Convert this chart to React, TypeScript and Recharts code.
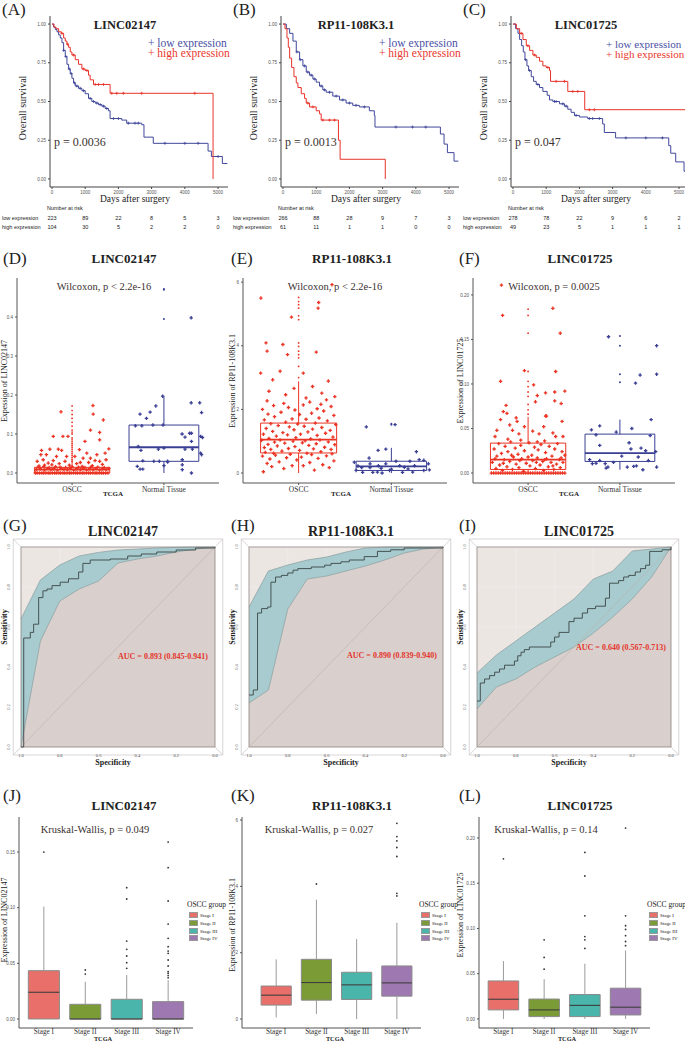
import React from "react";
import {
  Area,
  CartesianGrid,
  ComposedChart,
  Line,
  ReferenceArea,
  ReferenceLine,
  Scatter,
  XAxis,
  YAxis,
} from "recharts";

const SERIF = '"Liberation Serif", "DejaVu Serif", serif';
const SANS = '"Liberation Sans", Arial, sans-serif';
const KM_BLUE = "#40479b";
const KM_RED = "#e8332a";
const PT_RED = "#ea3323";
const PT_BLUE = "#3a3f94";

// ---------- Kaplan-Meier (days, survival) ----------
const KM_TICKS = [0, 1000, 2000, 3000, 4000, 5000];
const RISK_DAYS = [0, 1000, 2000, 3000, 4000, 5000];

const kmA_low = [[0,1],[50,0.98],[100,0.965],[150,0.95],[200,0.93],[250,0.91],[300,0.88],[350,0.83],[400,0.79],[450,0.74],[500,0.71],[550,0.68],[600,0.65],[650,0.62],[700,0.6],[800,0.585],[900,0.57],[1000,0.55],[1100,0.52],[1200,0.5],[1300,0.49],[1400,0.48],[1500,0.47],[1600,0.455],[1700,0.44],[1750,0.39],[2100,0.38],[2250,0.36],[2700,0.35],[2770,0.27],[3050,0.23],[4700,0.18],[4800,0.145],[5130,0.1],[5280,0.1]];
const kmA_lowCens = [[350,0.83],[420,0.79],[520,0.71],[580,0.68],[680,0.62],[750,0.6],[850,0.585],[950,0.57],[1150,0.52],[1250,0.5],[1350,0.49],[1450,0.48],[1550,0.47],[1650,0.455],[1850,0.39],[2000,0.39],[2300,0.36],[2500,0.36],[2600,0.36],[3400,0.23],[4000,0.23],[4400,0.23],[5000,0.145]];
const kmA_high = [[0,1],[60,0.98],[120,0.97],[200,0.95],[280,0.94],[350,0.91],[400,0.89],[450,0.87],[500,0.85],[550,0.82],[600,0.8],[700,0.77],[800,0.74],[900,0.71],[1000,0.7],[1100,0.67],[1150,0.64],[1250,0.61],[1750,0.553],[4850,0]];
const kmA_highCens = [[300,0.94],[470,0.87],[650,0.8],[950,0.71],[1050,0.7],[1300,0.61],[1400,0.61],[1550,0.61],[1800,0.553],[1950,0.553],[2150,0.553],[2700,0.553],[4300,0.553]];
const riskA_low = [223, 89, 22, 8, 5, 3];
const riskA_high = [104, 30, 5, 2, 2, 0];

const kmB_low = [[0,1],[100,0.97],[200,0.94],[300,0.89],[400,0.82],[500,0.77],[600,0.73],[700,0.69],[800,0.67],[900,0.645],[1000,0.625],[1100,0.6],[1200,0.575],[1300,0.56],[1500,0.535],[1700,0.51],[1900,0.49],[2100,0.475],[2300,0.465],[2600,0.44],[2750,0.41],[2770,0.335],[4740,0.29],[4850,0.225],[4950,0.17],[5150,0.115],[5280,0.115]];
const kmB_lowCens = [[420,0.82],[520,0.77],[650,0.73],[750,0.69],[850,0.67],[950,0.645],[1150,0.6],[1250,0.575],[1400,0.56],[1600,0.535],[1800,0.51],[2000,0.49],[2200,0.475],[2450,0.465],[3400,0.335],[3900,0.335],[4300,0.335]];
const kmB_high = [[0,1],[60,0.97],[120,0.91],[160,0.85],[200,0.78],[260,0.72],[330,0.66],[400,0.62],[450,0.59],[550,0.55],[650,0.52],[700,0.49],[800,0.465],[1000,0.44],[1100,0.42],[1150,0.38],[1670,0.25],[1720,0.127],[3080,0]];
const kmB_highCens = [[750,0.49],[900,0.465],[1200,0.38],[1400,0.38],[1550,0.38]];
const riskB_low = [266, 88, 28, 9, 7, 3];
const riskB_high = [61, 11, 1, 1, 0, 0];

const kmC_low = [[0,1],[80,0.97],[150,0.94],[200,0.9],[260,0.86],[310,0.82],[360,0.77],[420,0.73],[470,0.7],[550,0.66],[620,0.63],[700,0.61],[800,0.59],[900,0.565],[1030,0.54],[1100,0.51],[1200,0.5],[1400,0.485],[1550,0.47],[1650,0.45],[1750,0.43],[1850,0.41],[2000,0.4],[2250,0.39],[2700,0.355],[2750,0.3],[3090,0.265],[4690,0.215],[4750,0.166],[4900,0.11],[5150,0.05],[5280,0.05]];
const kmC_lowCens = [[380,0.77],[500,0.7],[750,0.61],[1250,0.5],[1300,0.5],[1500,0.485],[1600,0.47],[1900,0.41],[2300,0.39],[2400,0.39],[2600,0.39],[3400,0.265],[4000,0.265],[4500,0.265]];
const kmC_high = [[0,1],[100,0.97],[200,0.94],[300,0.9],[400,0.86],[500,0.83],[600,0.8],[700,0.785],[800,0.76],[900,0.73],[1000,0.72],[1100,0.7],[1130,0.63],[1650,0.565],[2160,0.447],[5300,0.447]];
const kmC_highCens = [[250,0.94],[450,0.86],[650,0.8],[1050,0.72],[1300,0.63],[1550,0.63],[1800,0.565],[1950,0.565],[2300,0.447],[2450,0.447]];
const riskC_low = [278, 78, 22, 9, 6, 2];
const riskC_high = [49, 23, 5, 1, 1, 1];

// ---------- OSCC vs normal (x: 1 = OSCC, 2 = Normal Tissue, jittered) ----------
// boxes are [lower whisker, q1, median, q3, upper whisker]
const dOsccBox = [0, 0, 0.0085, 0.0145, 0.035];
const dNormBox = [0, 0.03, 0.066, 0.123, 0.197];
const dOsccOut = [0.03,0.035,0.04,0.045,0.05,0.055,0.06,0.065,0.07,0.075,0.08,0.085,0.09,0.1,0.105,0.11,0.12,0.13,0.14,0.15,0.16,0.172];
const dNormOut = [0.47, 0.472, 0.395];
const dOsccZeroX = [0.6,0.62,0.645,0.67,0.69,0.715,0.74,0.76,0.785,0.81,0.83,0.855,0.875,0.9,0.92,0.945,0.97,0.99,1.015,1.04,1.06,1.085,1.11,1.13,1.155,1.18,1.2,1.225,1.25,1.27,1.295,1.32,1.34,1.365,1.39];
const dOsccPts = [[0.879,0.157],[0.795,0.094],[0.9,0.094],[1.227,0.173],[1.23,0.151],[1.2,0.11],[1.3,0.104],[1.34,0.136],[1.3,0.085],[1.14,0.081],[1.08,0.06],[1.4,0.062],[1.36,0.051],[0.667,0.058],[0.72,0.047],[0.758,0.061],[0.85,0.061],[0.886,0.058],[0.955,0.094],[0.94,0.0425],[1.03,0.0425],[1.12,0.038],[1.2,0.038],[1.25,0.032],[1.3,0.03],[1.37,0.034],[0.685,0.034],[0.795,0.032],[0.83,0.0425],[0.62,0.03],[1.09,0.027],[1.18,0.027],[0.923,0.03],[0.74,0.0255],[0.66,0.047],[0.86,0.024],[1.16,0.051],[1.27,0.047],[0.78,0.021],[1.05,0.024],[1.33,0.022],[0.7,0.02],[0.97,0.02],[1.22,0.019],[0.64,0.018],[1.11,0.017],
  [0.61,0.009],[0.655,0.011],[0.7,0.008],[0.73,0.012],[0.77,0.009],[0.8,0.011],[0.84,0.008],[0.88,0.012],[0.91,0.01],[0.95,0.009],[0.98,0.012],[1.02,0.008],[1.05,0.011],[1.09,0.009],[1.12,0.012],[1.16,0.008],[1.19,0.011],[1.23,0.009],[1.26,0.012],[1.3,0.008],[1.33,0.011],[1.37,0.009],[1.4,0.012],
  [0.63,0.015],[0.69,0.016],[0.75,0.014],[0.82,0.016],[0.87,0.015],[0.93,0.014],[1.0,0.016],[1.07,0.015],[1.14,0.014],[1.21,0.016],[1.28,0.015],[1.35,0.014]];
const dNormPts = [[1.986,0.197],[2.297,0.18],[2.39,0.18],[2.41,0.155],[1.912,0.172],[1.85,0.156],[1.81,0.14],[1.74,0.151],[1.88,0.123],[1.76,0.121],[1.69,0.121],[1.99,0.123],[2.198,0.1],[2.28,0.102],[2.3,0.102],[2.23,0.092],[2.4,0.094],[2.42,0.091],[2.3,0.081],[1.72,0.068],[1.75,0.058],[1.94,0.061],[2.0,0.064],[2.23,0.061],[2.31,0.061],[2.4,0.051],[2.41,0.047],[1.77,0.031],[1.89,0.03],[1.95,0.03],[2.04,0.03],[2.2,0.034],[1.71,0.017],[1.74,0.01],[1.77,0.01],[2.0,0.019],[2.04,0.028],[2.2,0.0085],[2.2,0.021],[2.3,0.0],[2.297,0.398]];

const eOsccBox = [0, 0.63, 1.05, 1.57, 2.88];
const eNormBox = [0, 0.08, 0.21, 0.37, 0.79];
const eOsccOut = [5.52,5.39,5.29,5.18,4.94,4.82,4.09,3.98,3.83,3.72,3.62,3.35,3.0];
const eNormOut = [1.52, 1.55];
const eOsccPts = [[0.593,5.5],[1.216,5.36],[1.21,5.18],[0.923,4.9],[0.648,4.09],[0.66,3.83],[1.19,3.8],[0.83,4.04],[0.88,3.72],[0.8,3.2],[1.05,3.14],[0.59,3.14],[1.36,5.92],[0.72,2.93],[1.15,2.72],[1.32,2.89],[0.95,2.66],[0.68,2.57],[1.25,2.51],[1.39,2.4],[0.86,2.46],[1.08,2.36],
  [0.62,0.04],[1.17,0.09],[0.84,0.14],[1.33,0.17],[0.71,0.2],[1.05,0.23],[0.93,0.23],[1.26,0.26],[0.66,0.3],[1.12,0.33],[0.79,0.35],[1.38,0.38],[0.98,0.41],[0.69,0.44],[1.21,0.46],[0.87,0.48],[1.03,0.5],[0.61,0.53],[1.3,0.54],[0.75,0.56],[1.14,0.58],[0.91,0.59],[1.36,0.6],[0.73,0.62],[1.09,0.62],
  [0.64,0.65],[1.24,0.67],[0.82,0.69],[1.01,0.71],[1.35,0.74],[0.7,0.74],[1.16,0.76],[0.89,0.77],[0.63,0.8],[1.28,0.81],[0.96,0.83],[0.77,0.85],[1.11,0.87],[1.39,0.89],[0.67,0.9],[1.19,0.92],[0.85,0.94],[1.04,0.95],[0.74,0.97],[1.32,0.98],[0.94,1.0],[1.07,1.01],[0.6,1.03],[1.23,1.04],[0.8,1.04],
  [1.13,1.07],[0.68,1.09],[0.97,1.11],[1.37,1.13],[0.76,1.16],[1.2,1.18],[0.88,1.2],[1.02,1.22],[0.62,1.22],[1.29,1.25],[0.83,1.27],[1.1,1.29],[0.72,1.31],[1.34,1.34],[0.95,1.36],[1.15,1.38],[0.65,1.4],[1.25,1.43],[0.9,1.45],[1.06,1.47],[0.78,1.49],[1.4,1.52],[0.99,1.54],[0.7,1.55],[1.18,1.57],
  [0.86,1.6],[1.31,1.64],[0.63,1.67],[1.08,1.69],[0.93,1.7],[1.22,1.73],[0.74,1.77],[1.38,1.81],[1.01,1.84],[0.67,1.85],[1.14,1.88],[0.81,1.91],[1.27,1.95],[0.96,1.98],[0.61,2.0],[1.2,2.02],[0.89,2.06],[1.35,2.09],[0.73,2.12],[1.05,2.14],[1.24,2.16],[0.84,2.19],[1.12,2.23],[0.66,2.27],[1.3,2.3]];
const eNormPts = [[1.73,1.45],[2.04,1.52],[1.857,0.71],[1.94,0.75],[2.27,0.67],[1.76,0.47],[1.6,0.34],[1.77,0.29],[1.86,0.23],[1.94,0.29],[2.05,0.37],[2.09,0.23],[2.2,0.37],[2.3,0.42],[2.35,0.4],[2.4,0.29],[2.41,0.1],[1.62,0.08],[1.69,0.02],[1.8,0.02],[1.85,0.03],[1.9,0],[1.98,0.08],[2.12,0.02],[2.23,0.03],[2.35,0.08],[2.18,0.13],[1.89,0.15],[1.77,0.17],[1.68,0.17],[2.25,0.23],[2.0,0.12],[2.14,0.18],[1.64,0.22]];

const fOsccBox = [0, 0.004, 0.015, 0.0336, 0.063];
const fNormBox = [0.0037, 0.013, 0.0224, 0.0437, 0.06];
const fOsccOut = [0.066,0.071,0.077,0.086,0.091,0.097,0.103,0.114,0.157,0.177,0.184];
const fNormOut = [0.154, 0.143, 0.111, 0.102];
const fOsccZeroX = [0.6,0.625,0.65,0.675,0.7,0.725,0.75,0.775,0.8,0.825,0.85,0.875,0.9,0.925,0.95,0.975,1.0,1.025,1.05,1.075,1.1,1.125,1.15,1.175,1.2,1.225,1.25,1.275,1.3,1.325,1.35,1.375,1.4];
const fOsccPts = [[0.722,0.177],[1.27,0.185],[1.35,0.157],[0.96,0.115],[1.3,0.114],[0.7,0.103],[1.06,0.099],[1.19,0.09],[1.29,0.091],[1.4,0.092],[1.1,0.087],[1.08,0.08],[1.29,0.081],[1.36,0.078],[0.76,0.076],[0.73,0.069],[0.77,0.067],[1.19,0.064],[1.2,0.064],[0.7,0.06],[0.87,0.062],[0.88,0.058],[1.37,0.058],[0.8,0.054],[0.96,0.052],[1.17,0.052],[0.66,0.048],[0.83,0.048],[0.9,0.044],[1.05,0.047],[1.12,0.044],[1.27,0.045],[1.3,0.041],[1.38,0.041],[0.64,0.041],[0.78,0.038],[0.92,0.037],[1.1,0.035],[1.18,0.036],[0.71,0.211],
  [0.61,0.012],[0.63,0.027],[0.65,0.005],[0.66,0.019],[0.68,0.033],[0.69,0.009],[0.71,0.022],[0.72,0.003],[0.74,0.015],[0.75,0.03],[0.77,0.007],[0.78,0.024],[0.8,0.013],[0.81,0.035],[0.83,0.004],[0.84,0.018],[0.86,0.028],[0.87,0.01],[0.89,0.021],[0.9,0.006],[0.92,0.031],[0.93,0.016],[0.95,0.002],[0.96,0.025],[0.98,0.011],[1.01,0.034],[1.02,0.008],[1.04,0.02],[1.05,0.014],[1.07,0.029],[1.08,0.005],[1.1,0.017],[1.11,0.026],[1.13,0.009],[1.14,0.032],[1.16,0.013],[1.17,0.003],[1.19,0.023],[1.2,0.016],[1.22,0.007],[1.23,0.03],[1.25,0.012],[1.26,0.019],[1.28,0.004],[1.29,0.027],[1.31,0.01],[1.32,0.033],[1.34,0.015],[1.35,0.006],[1.37,0.024],[1.38,0.012],[1.4,0.02],[0.64,0.016],[0.73,0.011],[0.82,0.02],[0.91,0.014],[1.0,0.018],[1.09,0.012],[1.18,0.015],[1.27,0.008],[1.36,0.017]];
const fNormPts = [[1.69,0.0485],[1.78,0.053],[1.74,0.043],[1.78,0.031],[1.876,0.153],[2.4,0.143],[2.4,0.111],[2.22,0.11],[2.17,0.101],[2.34,0.06],[1.96,0.046],[2.13,0.05],[2.1,0.034],[2.12,0.027],[2.23,0.028],[2.33,0.042],[2.28,0.025],[2.39,0.024],[2.2,0.018],[1.78,0.014],[1.67,0.015],[1.7,0.0105],[1.74,0.011],[1.84,0.0105],[1.87,0.0067],[2.02,0.019],[2.08,0.0067],[2.15,0.0075],[2.18,0.008],[2.25,0.0037],[2.31,0.014],[2.4,0.0067],[1.85,0.0056],[1.93,0.012]];

// ---------- ROC (specificity, sensitivity) ----------
const ROC_TICKS = [0, 0.2, 0.4, 0.6, 0.8, 1];
const ciSpec = [1, 0.9, 0.8, 0.7, 0.6, 0.5, 0.4, 0.3, 0.2, 0.1, 0];
const gCiLow = [0, 0.53, 0.73, 0.79, 0.83, 0.92, 0.94, 0.955, 0.975, 0.99, 1];
const gCiHigh = [0.64, 0.835, 0.91, 0.955, 0.973, 0.985, 0.99, 0.995, 0.998, 1, 1];
const gRoc = [[1,0],[0.986,0.545],[0.952,0.573],[0.935,0.614],[0.909,0.747],[0.887,0.781],[0.866,0.79],[0.84,0.807],[0.798,0.824],[0.755,0.841],[0.703,0.875],[0.681,0.918],[0.643,0.935],[0.54,0.94],[0.45,0.955],[0.38,0.965],[0.3,0.975],[0.2,0.985],[0.1,0.995],[0,1]];
const hCiLow = [0.22, 0.285, 0.69, 0.84, 0.855, 0.88, 0.905, 0.935, 0.97, 0.99, 1];
const hCiHigh = [0.7, 0.88, 0.91, 0.935, 0.95, 0.975, 0.995, 1, 1, 1, 1];
const hRoc = [[1,0.26],[0.978,0.285],[0.956,0.67],[0.935,0.692],[0.904,0.7],[0.887,0.824],[0.863,0.85],[0.833,0.858],[0.8,0.87],[0.773,0.884],[0.748,0.892],[0.679,0.9],[0.61,0.909],[0.577,0.918],[0.526,0.926],[0.483,0.935],[0.406,0.952],[0.338,0.978],[0.27,0.986],[0.2,0.995],[0,1]];
const iCiLow = [0.19, 0.3, 0.34, 0.4, 0.45, 0.5, 0.57, 0.65, 0.74, 0.85, 1];
const iCiHigh = [0.37, 0.46, 0.53, 0.6, 0.67, 0.74, 0.84, 0.88, 0.98, 0.99, 1];
const iRoc = [[1,0.23],[0.983,0.32],[0.961,0.34],[0.935,0.357],[0.909,0.374],[0.884,0.39],[0.858,0.409],[0.807,0.43],[0.79,0.456],[0.773,0.474],[0.756,0.487],[0.73,0.5],[0.62,0.525],[0.6,0.55],[0.577,0.573],[0.526,0.627],[0.5,0.644],[0.457,0.67],[0.43,0.692],[0.389,0.704],[0.338,0.744],[0.317,0.819],[0.27,0.832],[0.244,0.85],[0.218,0.858],[0.184,0.875],[0.157,0.892],[0.131,0.909],[0.11,0.978],[0.046,0.986],[0,1]];

// ---------- stage box plots ----------
const STAGES = ["Stage I", "Stage II", "Stage III", "Stage IV"];
const STAGE_COLORS = ["#e9706a", "#7a9b36", "#4ab5aa", "#9e78b0"];
const jBoxes = [[0,0,0.024,0.0434,0.101],[0,0,0,0.0132,0.0335],[0,0,0,0.0177,0.0395],[0,0,0,0.0156,0.035]];
const jOut = [[0.15],[0.044,0.0404],[0.0455,0.0506,0.0566,0.0626,0.07,0.1078,0.118],[0.037,0.039,0.041,0.0425,0.0476,0.053,0.059,0.061,0.065,0.0725,0.0853,0.106,0.136,0.159]];
const kBoxes = [[0.05,0.42,0.72,0.995,1.8],[0.15,0.57,1.1,1.8,3.6],[0,0.59,1.03,1.41,2.41],[0,0.69,1.09,1.6,2.9]];
const kOut = [[],[4.07],[],[3.71,3.79,4.9,5.17,5.37,5.5,5.9]];
const lBoxes = [[0,0.01,0.0218,0.042,0.064],[0,0.0026,0.01,0.022,0.044],[0,0.0026,0.015,0.027,0.061],[0,0.0044,0.013,0.034,0.0757]];
const lOut = [[0.177],[0.055,0.068,0.0875],[0.078,0.0875,0.091,0.114,0.158,0.184],[0.081,0.0856,0.092,0.099,0.103,0.114,0.211]];

// ---------- helpers ----------
const toTS = (rows: number[][]) => rows.map(([t, s]) => ({ t, s }));
const toXY = (rows: number[][]) => rows.map(([x, y]) => ({ x, y }));

const plusShape = (color: string, r = 1.6, w = 1.1) => (props: any) => {
  const { cx, cy } = props;
  if (cx == null || cy == null) return <g />;
  return <path d={`M${cx - r},${cy}H${cx + r}M${cx},${cy - r}V${cy + r}`} stroke={color} strokeWidth={w} fill="none" />;
};
const dotShape = (color: string, r = 1) => (props: any) => {
  if (props.cx == null || props.cy == null) return <g />;
  return <circle cx={props.cx} cy={props.cy} r={r} fill={color} />;
};

function Txt({ x, y, children, size = 10, color = "#222", weight = 400, font = SERIF, align = "left", rotate = 0 }: any) {
  const tx = align === "center" ? "-50%" : align === "right" ? "-100%" : "0%";
  return (
    <div
      style={{
        position: "absolute",
        left: x,
        top: y,
        fontSize: size,
        color,
        fontWeight: weight,
        fontFamily: font,
        whiteSpace: "nowrap",
        lineHeight: 1,
        transform: `translate(${tx}, -50%)` + (rotate ? ` rotate(${rotate}deg)` : ""),
        transformOrigin: "center",
      }}
    >
      {children}
    </div>
  );
}

function boxMarks(key: string, x: number, b: number[], hw: number, o: any) {
  const [lo, q1, med, q3, hi] = b;
  return [
    <ReferenceLine key={key + "wu"} segment={[{ x, y: q3 }, { x, y: hi }]} stroke={o.whisker} strokeWidth={o.sw} />,
    <ReferenceLine key={key + "wl"} segment={[{ x, y: lo }, { x, y: q1 }]} stroke={o.whisker} strokeWidth={o.sw} />,
    <ReferenceArea key={key + "b"} x1={x - hw} x2={x + hw} y1={q1} y2={q3} fill={o.fill} fillOpacity={1} stroke={o.stroke} strokeWidth={o.sw} />,
    <ReferenceLine key={key + "m"} segment={[{ x: x - hw, y: med }, { x: x + hw, y: med }]} stroke={o.median} strokeWidth={o.msw} />,
  ];
}

// ---------- panels ----------
function KMPanel({ left, tag, title, pText, low, high, lowCens, highCens, riskLow, riskHigh, legendX = 148, legendSize = 11.5 }: any) {
  const riskRows = [
    ...riskLow.map((n: number, i: number) => ({ t: RISK_DAYS[i], row: 2, n })),
    ...riskHigh.map((n: number, i: number) => ({ t: RISK_DAYS[i], row: 1, n })),
  ];
  const axisTick = { fontSize: 4.5, fill: "#555", fontFamily: SANS };
  return (
    <div style={{ position: "absolute", left, top: 0, width: 230, height: 240 }}>
      <div style={{ position: "absolute", left: 0, top: 0 }}>
        <ComposedChart width={230} height={206} margin={{ top: 16, right: 2, bottom: 0, left: 0 }}>
          <XAxis type="number" dataKey="t" domain={[-60, 5300]} ticks={KM_TICKS} allowDataOverflow interval={0} height={19} tick={axisTick} tickSize={2} stroke="#444" />
          <YAxis type="number" dataKey="s" domain={[-0.052, 1.052]} ticks={[0, 0.25, 0.5, 0.75, 1]} tickFormatter={(v: number) => v.toFixed(2)} allowDataOverflow interval={0} width={50} tick={axisTick} tickSize={2} stroke="#444" />
          <Line data={toTS(low)} dataKey="s" type="stepAfter" stroke={KM_BLUE} strokeWidth={1} dot={false} isAnimationActive={false} />
          <Line data={toTS(high)} dataKey="s" type="stepAfter" stroke={KM_RED} strokeWidth={1} dot={false} isAnimationActive={false} />
          <Scatter data={toTS(lowCens)} dataKey="s" shape={plusShape(KM_BLUE, 1.5, 0.8)} isAnimationActive={false} />
          <Scatter data={toTS(highCens)} dataKey="s" shape={plusShape(KM_RED, 1.5, 0.8)} isAnimationActive={false} />
        </ComposedChart>
      </div>
      <div style={{ position: "absolute", left: 0, top: 204 }}>
        <ComposedChart width={230} height={28} margin={{ top: 0, right: 2, bottom: 0, left: 0 }}>
          <XAxis type="number" dataKey="t" domain={[-60, 5300]} hide />
          <YAxis
            type="number"
            dataKey="row"
            domain={[0.5, 3.5]}
            ticks={[1, 2]}
            width={50}
            axisLine={false}
            tickLine={false}
            interval={0}
            tick={(p: any) => (
              <text x={2} y={p.y} dy={2} fontSize={5.5} fontFamily={SANS} fill="#222">
                {p.payload.value === 2 ? "low expression" : "high expression"}
              </text>
            )}
          />
          <Scatter
            data={riskRows}
            dataKey="row"
            isAnimationActive={false}
            shape={(p: any) => (
              <text x={p.cx} y={p.cy} dy={2} textAnchor="middle" fontSize={5.5} fontFamily={SANS} fill="#222">
                {p.payload.n}
              </text>
            )}
          />
        </ComposedChart>
      </div>
      <Txt x={2} y={9} size={17}>{tag}</Txt>
      <Txt x={125} y={25} size={12.5} weight={700} align="center">{title}</Txt>
      <Txt x={legendX} y={44} size={legendSize} color="#4a4fa3">+ low expression</Txt>
      <Txt x={legendX} y={54} size={legendSize} color="#e8382d">+ high expression</Txt>
      <Txt x={54} y={142} size={12} color="#3b3130">{pText}</Txt>
      <Txt x={23} y={108} size={10} align="center" rotate={-90}>Overall survival</Txt>
      <Txt x={135} y={200} size={9.5} align="center">Days after surgery</Txt>
      <Txt x={47} y={209} size={5.5} font={SANS}>Number at risk</Txt>
    </div>
  );
}

function JitterPanel({ left, tag, title, yLabel, stat, statX, domain, ticks, fmt, yAxisW, osccPts, osccZeroX, normPts, osccBox, normBox, osccOut, normOut }: any) {
  const osccData = [...toXY(osccPts), ...(osccZeroX || []).map((x: number) => ({ x, y: 0 }))];
  const axisTick = { fontSize: 4.5, fill: "#555", fontFamily: SANS };
  return (
    <div style={{ position: "absolute", left, top: 240, width: 228, height: 262 }}>
      <div style={{ position: "absolute", left: 0, top: 30 }}>
        <ComposedChart width={228} height={230} margin={{ top: 8, right: 9, bottom: 0, left: 0 }}>
          <XAxis type="number" dataKey="x" domain={[0.4, 2.6]} ticks={[1, 2]} tickFormatter={(v: number) => (v === 1 ? "OSCC" : "Normal Tissue")} allowDataOverflow interval={0} height={17} tick={{ fontSize: 7.5, fill: "#333", fontFamily: SERIF }} tickSize={2} stroke="#555" />
          <YAxis type="number" dataKey="y" domain={domain} ticks={ticks} tickFormatter={fmt} allowDataOverflow interval={0} width={yAxisW} tick={axisTick} tickSize={2} stroke="#555" />
          {boxMarks("o", 1, osccBox, 0.41, { fill: "none", stroke: PT_RED, whisker: PT_RED, median: PT_RED, sw: 1, msw: 1.8 })}
          {boxMarks("n", 2, normBox, 0.38, { fill: "none", stroke: PT_BLUE, whisker: PT_BLUE, median: PT_BLUE, sw: 1, msw: 1.8 })}
          <Scatter data={osccData} dataKey="y" shape={plusShape(PT_RED, 1.7, 1.3)} isAnimationActive={false} />
          <Scatter data={osccOut.map((y: number) => ({ x: 1, y }))} dataKey="y" shape={dotShape(PT_RED, 0.9)} isAnimationActive={false} />
          <Scatter data={toXY(normPts)} dataKey="y" shape={plusShape(PT_BLUE, 1.7, 1.3)} isAnimationActive={false} />
          <Scatter data={normOut.map((y: number) => ({ x: 2, y }))} dataKey="y" shape={dotShape(PT_BLUE, 1)} isAnimationActive={false} />
        </ComposedChart>
      </div>
      <Txt x={3} y={18} size={17}>{tag}</Txt>
      <Txt x={124} y={18} size={13} weight={700} align="center">{title}</Txt>
      <Txt x={statX} y={47} size={10.5} color="#3b3130" align="center">{stat}</Txt>
      <Txt x={5} y={141} size={8} align="center" rotate={-90}>{yLabel}</Txt>
      <Txt x={113} y={254} size={7} weight={700} align="center">TCGA</Txt>
    </div>
  );
}

function RocPanel({ left, tag, title, low, high, roc, auc, aucX, aucY }: any) {
  const band = ciSpec.map((x, i) => ({ x, lo: low[i], hi: high[i] }));
  const F = 0.04;
  const frame = "#cfcaca";
  return (
    <div style={{ position: "absolute", left, top: 510, width: 228, height: 262 }}>
      <div style={{ position: "absolute", left: 0, top: 0 }}>
        <ComposedChart width={228} height={260} margin={{ top: 37, right: 13, bottom: 0, left: 0 }}>
          <CartesianGrid fill="#ece6e3" stroke="#f4f0ee" strokeWidth={0.5} />
          <XAxis
            type="number"
            dataKey="x"
            reversed
            domain={[0, 1]}
            ticks={ROC_TICKS}
            tickFormatter={(v: number) => v.toFixed(1)}
            interval={0}
            height={23}
            axisLine={false}
            tickLine={false}
            tickSize={0}
            tickMargin={7}
            tick={{ fontSize: 4.5, fill: "#555", fontFamily: SERIF }}
          />
          <YAxis
            type="number"
            dataKey="y"
            domain={[0, 1]}
            ticks={ROC_TICKS}
            interval={0}
            width={21}
            axisLine={false}
            tickLine={false}
            tickSize={0}
            tick={(p: any) => (
              <text x={p.x - 9} y={p.y} transform={`rotate(-90 ${p.x - 9} ${p.y})`} textAnchor="middle" fontSize={4.5} fontFamily={SERIF} fill="#555">
                {Number(p.payload.value).toFixed(1)}
              </text>
            )}
          />
          <Area data={band} dataKey={(d: any) => [0, d.lo]} type="linear" fill="#d9cfcc" fillOpacity={1} stroke="none" isAnimationActive={false} />
          <ReferenceLine segment={[{ x: 1, y: 0 }, { x: 0, y: 1 }]} stroke="#bcb2af" strokeWidth={0.6} />
          <Area data={band} dataKey={(d: any) => [d.lo, d.hi]} type="linear" fill="#a7cbce" fillOpacity={1} stroke="#889c9e" strokeWidth={0.7} isAnimationActive={false} />
          <Line data={roc.map(([x, y]: number[]) => ({ x, y }))} dataKey="y" type="stepAfter" stroke="#3c4545" strokeWidth={0.9} dot={false} isAnimationActive={false} />
          <ReferenceArea x1={0} x2={1} y1={0} y2={1} fill="none" stroke="#8d8785" strokeWidth={0.8} ifOverflow="visible" />
          <ReferenceArea x1={1 + F} x2={-F} y1={-F} y2={1 + F} fill="none" stroke={frame} strokeWidth={0.8} ifOverflow="visible" />
          <ReferenceLine segment={[{ x: 1, y: 1 }, { x: 1 + F, y: 1 + F }]} stroke={frame} strokeWidth={0.8} ifOverflow="visible" />
          <ReferenceLine segment={[{ x: 0, y: 1 }, { x: -F, y: 1 + F }]} stroke={frame} strokeWidth={0.8} ifOverflow="visible" />
          <ReferenceLine segment={[{ x: 1, y: 0 }, { x: 1 + F, y: -F }]} stroke={frame} strokeWidth={0.8} ifOverflow="visible" />
          <ReferenceLine segment={[{ x: 0, y: 0 }, { x: -F, y: -F }]} stroke={frame} strokeWidth={0.8} ifOverflow="visible" />
        </ComposedChart>
      </div>
      <Txt x={3} y={15} size={17}>{tag}</Txt>
      <Txt x={123} y={22} size={14} weight={700} align="center">{title}</Txt>
      <Txt x={aucX} y={aucY} size={8} weight={700} color="#e4362d">{auc}</Txt>
      <Txt x={5} y={117} size={8} weight={700} align="center" rotate={-90}>Sensitivity</Txt>
      <Txt x={113} y={253} size={8} weight={700} align="center">Specificity</Txt>
    </div>
  );
}

function StagePanel({ left, tag, title, yLabel, stat, statX, domain, ticks, fmt, yAxisW, rightM, xDomain, boxes, outs, tcgaX, legendX, yLabelY }: any) {
  const outData = outs.flatMap((arr: number[], i: number) => arr.map((y) => ({ x: i + 1, y })));
  return (
    <div style={{ position: "absolute", left, top: 780, width: 228, height: 263 }}>
      <div style={{ position: "absolute", left: 0, top: 30 }}>
        <ComposedChart width={228} height={233} margin={{ top: 7, right: rightM, bottom: 0, left: 0 }}>
          <XAxis type="number" dataKey="x" domain={xDomain} ticks={[1, 2, 3, 4]} tickFormatter={(v: number) => STAGES[v - 1]} allowDataOverflow interval={0} height={15} tick={{ fontSize: 7.2, fill: "#333", fontFamily: SERIF }} tickSize={0} tickMargin={1} stroke="#555" />
          <YAxis type="number" dataKey="y" domain={domain} ticks={ticks} tickFormatter={fmt} allowDataOverflow interval={0} width={yAxisW} tick={{ fontSize: 4.5, fill: "#555", fontFamily: SANS }} tickSize={2} stroke="#555" />
          {boxes.flatMap((b: number[], i: number) =>
            boxMarks("s" + i, i + 1, b, 0.375, { fill: STAGE_COLORS[i], stroke: "#8a8a8a", whisker: "#9a9a9a", median: "#3e3e3e", sw: 1, msw: 1.1 })
          )}
          <Scatter data={outData} dataKey="y" shape={dotShape("#333", 0.9)} isAnimationActive={false} />
        </ComposedChart>
      </div>
      <Txt x={3} y={15} size={17}>{tag}</Txt>
      <Txt x={124} y={25} size={13} weight={700} align="center">{title}</Txt>
      <Txt x={statX} y={50} size={10.5} color="#3b3130" align="center">{stat}</Txt>
      <Txt x={5} y={yLabelY} size={8} align="center" rotate={-90}>{yLabel}</Txt>
      <Txt x={tcgaX} y={259} size={6.3} weight={700} align="center">TCGA</Txt>
      <Txt x={legendX} y={125} size={7.5}>OSCC group</Txt>
      {STAGES.map((s, i) => (
        <div key={s} style={{ position: "absolute", left: legendX + 2, top: 132 + i * 7.8, width: 9, height: 6, background: STAGE_COLORS[i], border: "0.5px solid #999", boxSizing: "border-box" }} />
      ))}
      {STAGES.map((s, i) => (
        <Txt key={s + "t"} x={legendX + 13} y={135 + i * 7.8} size={5}>{s}</Txt>
      ))}
    </div>
  );
}

const f2 = (v: number) => v.toFixed(2);
const f1 = (v: number) => v.toFixed(1);
const f0 = (v: number) => String(v);

export default function App() {
  return (
    <div style={{ position: "absolute", left: 0, top: 0, width: 685, height: 1043, background: "#fff", overflow: "hidden" }}>
      <KMPanel left={0} tag="(A)" title="LINC02147" pText="p = 0.0036" low={kmA_low} high={kmA_high} lowCens={kmA_lowCens} highCens={kmA_highCens} riskLow={riskA_low} riskHigh={riskA_high} />
      <KMPanel left={231} tag="(B)" title="RP11-108K3.1" pText="p = 0.0013" low={kmB_low} high={kmB_high} lowCens={kmB_lowCens} highCens={kmB_highCens} riskLow={riskB_low} riskHigh={riskB_high} />
      <KMPanel left={461} tag="(C)" title="LINC01725" pText="p = 0.047" low={kmC_low} high={kmC_high} lowCens={kmC_lowCens} highCens={kmC_highCens} riskLow={riskC_low} riskHigh={riskC_high} legendX={145} legendSize={11} />

      <JitterPanel left={0} tag="(D)" title="LINC02147" yLabel="Expession of LINC02147" stat="Wilcoxon, p < 2.2e-16" statX={104} domain={[-0.0256, 0.5]} ticks={[0, 0.1, 0.2, 0.3, 0.4]} fmt={f1} yAxisW={17} osccPts={dOsccPts} osccZeroX={dOsccZeroX} normPts={dNormPts} osccBox={dOsccBox} normBox={dNormBox} osccOut={dOsccOut} normOut={dNormOut} />
      <JitterPanel left={228} tag="(E)" title="RP11-108K3.1" yLabel="Expression of RP11-108K3.1" stat="Wilcoxon, p < 2.2e-16" statX={107} domain={[-0.314, 6.13]} ticks={[0, 2, 4, 6]} fmt={f0} yAxisW={15} osccPts={eOsccPts} normPts={eNormPts} osccBox={eOsccBox} normBox={eNormBox} osccOut={eOsccOut} normOut={eNormOut} />
      <JitterPanel left={456} tag="(F)" title="LINC01725" yLabel="Expression of LINC01725" stat="Wilcoxon, p = 0.0025" statX={98} domain={[-0.0112, 0.219]} ticks={[0, 0.05, 0.1, 0.15, 0.2]} fmt={f2} yAxisW={17} osccPts={fOsccPts} osccZeroX={fOsccZeroX} normPts={fNormPts} osccBox={fOsccBox} normBox={fNormBox} osccOut={fOsccOut} normOut={fNormOut} />

      <RocPanel left={0} tag="(G)" title="LINC02147" low={gCiLow} high={gCiHigh} roc={gRoc} auc="AUC = 0.893 (0.845-0.941)" aucX={118} aucY={147} />
      <RocPanel left={228} tag="(H)" title="RP11-108K3.1" low={hCiLow} high={hCiHigh} roc={hRoc} auc="AUC = 0.890 (0.839-0.940)" aucX={119} aucY={146} />
      <RocPanel left={456} tag="(I)" title="LINC01725" low={iCiLow} high={iCiHigh} roc={iRoc} auc="AUC = 0.640 (0.567-0.713)" aucX={120} aucY={138} />

      <StagePanel left={0} tag="(J)" title="LINC02147" yLabel="Expression of LINC02147" stat="Kruskal-Wallis, p = 0.049" statX={95} domain={[-0.0081, 0.1815]} ticks={[0, 0.05, 0.1, 0.15]} fmt={f2} yAxisW={19} rightM={35} xDomain={[0.4, 4.6]} boxes={jBoxes} outs={jOut} tcgaX={103} legendX={187} yLabelY={140} />
      <StagePanel left={228} tag="(K)" title="RP11-108K3.1" yLabel="Expression of  RP11-108K3.1" stat="Kruskal-Wallis, p = 0.027" statX={91} domain={[-0.27, 6.09]} ticks={[0, 2, 4, 6]} fmt={f0} yAxisW={14} rightM={35} xDomain={[0.15, 4.6]} boxes={kBoxes} outs={kOut} tcgaX={107} legendX={191} yLabelY={145} />
      <StagePanel left={456} tag="(L)" title="LINC01725" yLabel="Expression of LINC01725" stat="Kruskal-Wallis, p = 0.14" statX={90} domain={[-0.01, 0.2232]} ticks={[0, 0.05, 0.1, 0.15, 0.2]} fmt={f2} yAxisW={23} rightM={34} xDomain={[0.4, 4.6]} boxes={lBoxes} outs={lOut} tcgaX={111} legendX={191} yLabelY={135} />
    </div>
  );
}
